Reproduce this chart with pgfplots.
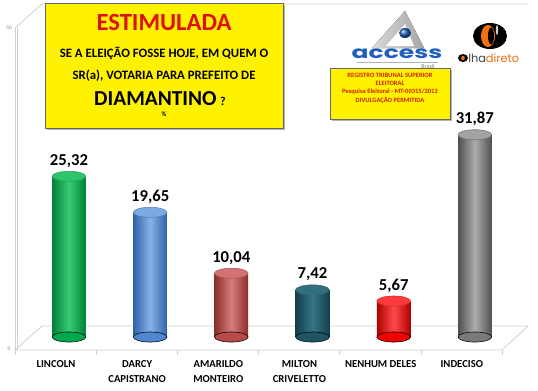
\documentclass[border=0pt]{standalone}
\usepackage{fontspec}
\setmainfont{Carlito}
\newfontfamily\logofont{Poppins}
\usepackage{pgfplots}
\pgfplotsset{compat=1.18}
\definecolor{gD}{HTML}{00803A}\definecolor{gM}{HTML}{00B050}\definecolor{gL}{HTML}{50D880}
\definecolor{bD}{HTML}{2F62A8}\definecolor{bM}{HTML}{558ED5}\definecolor{bL}{HTML}{9CC2EE}
\definecolor{rD}{HTML}{8B2D2A}\definecolor{rM}{HTML}{C0504D}\definecolor{rL}{HTML}{E09090}
\definecolor{tD}{HTML}{143E4A}\definecolor{tM}{HTML}{215867}\definecolor{tL}{HTML}{3E8294}
\definecolor{nD}{HTML}{B00000}\definecolor{nM}{HTML}{FF0000}\definecolor{nL}{HTML}{FF6A6A}
\definecolor{yD}{HTML}{505050}\definecolor{yM}{HTML}{808080}\definecolor{yL}{HTML}{C0C0C0}
\definecolor{frame}{HTML}{D0D0D0}
\definecolor{boxred}{HTML}{E01010}
\definecolor{regred}{HTML}{D02000}
\definecolor{accblue}{HTML}{1F5FBF}
\definecolor{olhaorange}{HTML}{F07010}
% x, value, dark, mid, light
\newcommand{\cyl}[5]{%
\addplot[only marks, mark=*, mark size=12.6pt, mark options={yscale=0.3, draw=none, fill=#4!85!#3}] coordinates {(#1,0)};
\addplot[ybar, bar width=25.2pt, bar shift=0pt, draw=none, left color=#3, right color=#3, middle color=#5!70!#4,
  nodes near coords, nodes near coords style={font=\bfseries\fontsize{12.5}{13}\selectfont, text=black, yshift=3pt,
  /pgf/number format/.cd, use comma, fixed, fixed zerofill, precision=2, assume math mode=true}] coordinates {(#1,#2)};
\addplot[only marks, mark=*, mark size=12.6pt, mark options={yscale=0.3, draw=#3!80, line width=0.4pt, fill=#5!55!#4}] coordinates {(#1,#2)};
}
\begin{document}
\begin{tikzpicture}[x=0.75pt, y=-0.75pt]
\useasboundingbox (0,0) rectangle (538,390);
\fill[white] (0,0) rectangle (538,390);
% 3D frame
\begin{scope}[draw=frame, line width=0.6pt]
\draw (15,28) -- (15,350);
\draw (17,28) -- (17,350);
\draw (15,350) -- (42,326) -- (528,326) -- (502,350) -- cycle;
\draw (15,28) -- (42,4) -- (528,4);
\foreach \xx in {15,96.2,177.4,258.6,339.8,421,502} \draw (\xx,350) -- (\xx,355);
\end{scope}
\node[font=\fontsize{4}{4}\selectfont, text=gray] at (9,28) {50};
\node[font=\fontsize{4}{4}\selectfont, text=gray] at (9,349) {0};
\coordinate (O) at (28.4,337);
\begin{axis}[at={(O)}, anchor=south west, scale only axis, width=365.25pt, height=238pt,
  xmin=-0.5, xmax=5.5, ymin=0, ymax=50, clip=false,
  axis line style={draw=none}, tick style={draw=none}, ytick=\empty,
  xtick={0,1,2,3,4,5},
  xticklabels={LINCOLN, DARCY\\CAPISTRANO, AMARILDO\\MONTEIRO, MILTON\\CRIVELETTO, NENHUM DELES, INDECISO},
  xticklabel style={align=center, font=\bfseries\fontsize{8}{11.5}\selectfont, xshift=-9.75pt, yshift=-14pt, anchor=north}]
\cyl{0}{25.32}{gD}{gM}{gL}
\cyl{1}{19.65}{bD}{bM}{bL}
\cyl{2}{10.04}{rD}{rM}{rL}
\cyl{3}{7.42}{tD}{tM}{tL}
\cyl{4}{5.67}{nD}{nM}{nL}
\cyl{5}{31.87}{yD}{yM}{yL}
\end{axis}
% title box
\fill[gray!60] (47,5) rectangle (285,130);
\filldraw[fill=yellow, draw=gray!80!black, line width=0.5pt] (45,3) rectangle (283,128);
\node[font=\bfseries\fontsize{18.5}{19}\selectfont, text=boxred] at (164,22) {ESTIMULADA};
\node[font=\bfseries\fontsize{9.6}{10}\selectfont] at (164,53) {SE A ELEIÇÃO FOSSE HOJE, EM QUEM O};
\node[font=\bfseries\fontsize{9.6}{10}\selectfont] at (164,76) {SR(a), VOTARIA PARA PREFEITO DE};
\node[font=\bfseries\fontsize{16}{16}\selectfont, anchor=base, inner sep=0pt] at (160,105) {DIAMANTINO\,{\fontsize{9}{9}\selectfont ?}};
\node[font=\bfseries\fontsize{5}{5}\selectfont, inner sep=0pt] at (164,114) {\%};
% registro box
\fill[gray!60] (332,70) rectangle (452,121);
\filldraw[fill=yellow, draw=gray!80!black, line width=0.4pt] (330,68) rectangle (450,119);
\node[font=\bfseries\fontsize{4.9}{5}\selectfont, text=regred] at (390,75) {REGISTRO TRIBUNAL SUPERIOR};
\node[font=\bfseries\fontsize{4.9}{5}\selectfont, text=regred] at (390,83.5) {ELEITORAL};
\node[font=\bfseries\fontsize{4.9}{5}\selectfont, text=regred] at (390,92) {Pesquisa Eleitoral - MT-00315/2012};
\node[font=\bfseries\fontsize{4.9}{5}\selectfont, text=regred] at (390,100) {DIVULGAÇÃO PERMITIDA};
% access logo
\fill[left color=gray!30, right color=gray!70] (405,11) -- (372,48) -- (424,48) -- cycle;
\fill[white] (405,24) -- (386,46) -- (414,46) -- cycle;
\shade[ball color=accblue] (405,33) ellipse (6 and 5);
\node[font=\bfseries\fontsize{15}{15}\selectfont\logofont, text=accblue, xscale=1.25, yscale=0.85, inner sep=0pt] at (397,54) {access};
\draw[gray!60, line width=0.4pt] (357,62) -- (438,62);
\node[font=\fontsize{4.5}{5}\selectfont, text=gray, inner sep=0pt] at (428,66) {Brasil};
% olhadireto logo
\fill[black] (490,36) ellipse (17 and 13);
\fill[olhaorange] (488,36) ellipse (7 and 11);
\fill[black] (491,36) ellipse (3 and 8.5);
\fill[gray!40] (497,30) ellipse (1.2 and 5);
\fill[black] (463,58) ellipse (5 and 4);
\fill[olhaorange] (463,58) ellipse (1.8 and 2.4);
\node[anchor=west, font=\fontsize{8.5}{9}\selectfont\logofont, inner sep=0] at (468,58.5) {\textcolor{black!75}{lha}\textcolor{olhaorange}{direto}};
\end{tikzpicture}
\end{document}
